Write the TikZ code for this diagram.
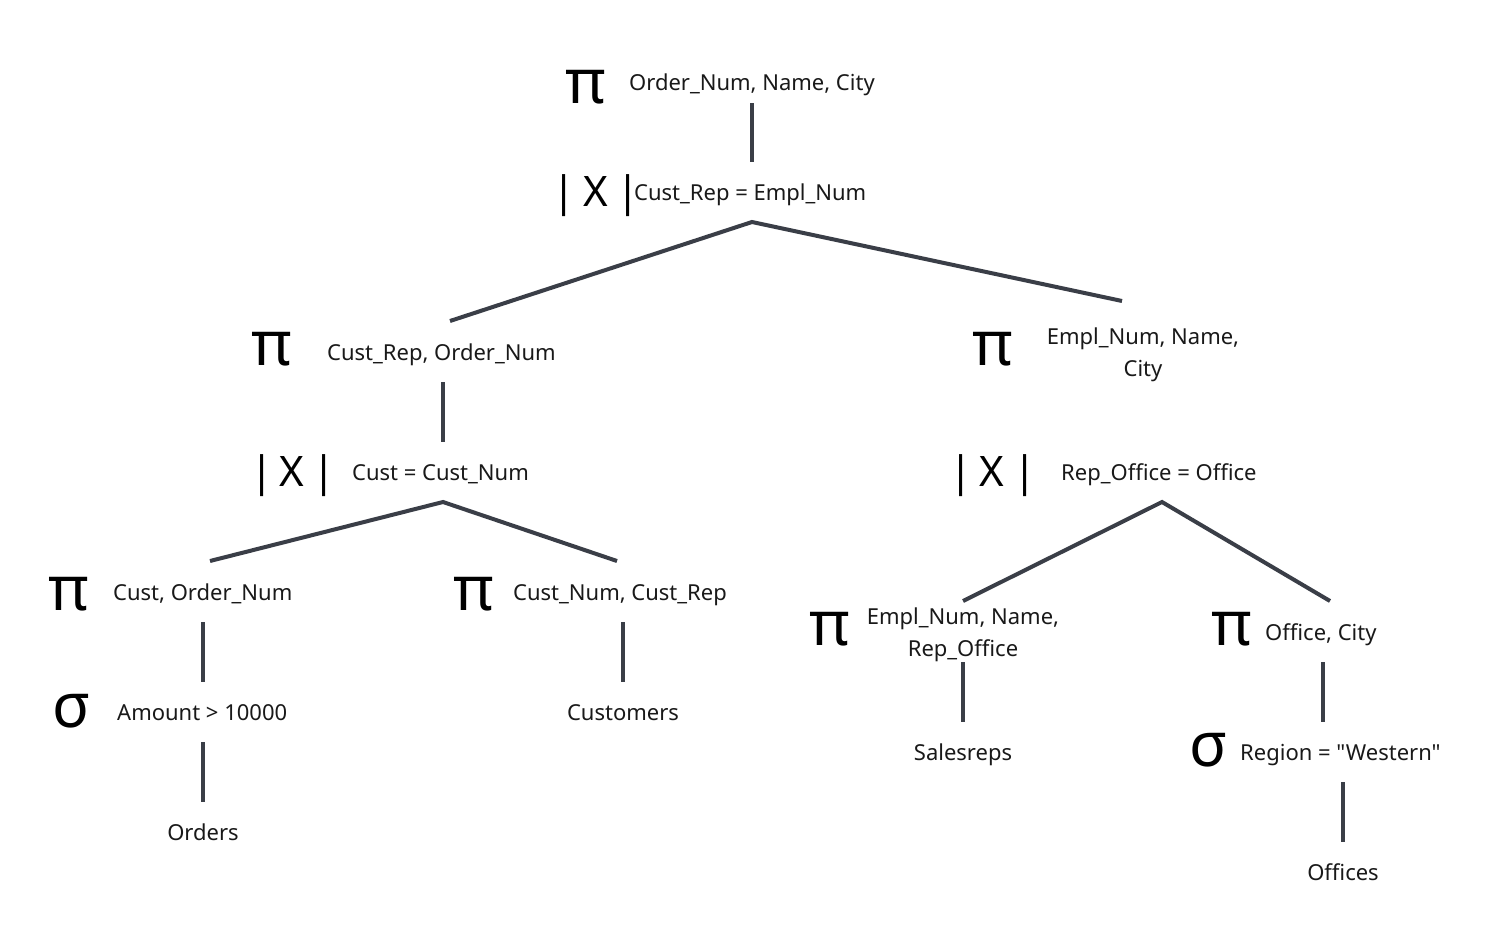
\documentclass[tikz,border=0pt]{standalone}
\usepackage{fontspec}
\setmainfont{Noto Sans}[Ligatures=TeXOff]
\begin{document}
\begin{tikzpicture}[x=1pt,y=-1pt,
  lbl/.style={inner sep=0pt,text=black!90,font=\fontsize{22}{32}\selectfont},
  op/.style={inner sep=0pt,text=black,font=\fontsize{62}{62}\selectfont},
  jn/.style={inner sep=0pt,text=black,font=\fontsize{42}{42}\selectfont},
  edge/.style={draw=edgecol,line width=4pt,line cap=butt,line join=miter}]
\definecolor{edgecol}{HTML}{3A3E47}
\useasboundingbox[fill=white] (0,0) rectangle (1503,942);

% ---- root projection
\node[op,anchor=base] (p1) at (586,103) {π};
\node[lbl,anchor=base west] (p1t) at (629,90) {Order\_Num, Name, City};
% ---- top join
\node[jn,anchor=base] (j1a) at (564,206) {|};
\node[jn,anchor=base] (j1x) at (596,206) {X};
\node[jn,anchor=base] (j1b) at (628,206) {|};
\node[lbl,anchor=base west] (j1t) at (634,200) {Cust\_Rep = Empl\_Num};
% ---- left projection
\node[op,anchor=base] (p2) at (272,365) {π};
\node[lbl,anchor=base west] (p2t) at (327,360) {Cust\_Rep, Order\_Num};
% ---- right projection
\node[op,anchor=base] (p3) at (993,365) {π};
\node[lbl,align=center,anchor=base] (p3t) at (1143,376) {Empl\_Num, Name,\\City};
% ---- left join
\node[jn,anchor=base] (j2a) at (262,486) {|};
\node[jn,anchor=base] (j2x) at (292,486) {X};
\node[jn,anchor=base] (j2b) at (324,486) {|};
\node[lbl,anchor=base west] (j2t) at (352,480) {Cust = Cust\_Num};
% ---- right join
\node[jn,anchor=base] (j3a) at (961,486) {|};
\node[jn,anchor=base] (j3x) at (992,486) {X};
\node[jn,anchor=base] (j3b) at (1025,486) {|};
\node[lbl,anchor=base west] (j3t) at (1061,480) {Rep\_Office = Office};
% ---- leaves left
\node[op,anchor=base] (p4) at (69,610) {π};
\node[lbl,anchor=base west] (p4t) at (113,600) {Cust, Order\_Num};
\node[op,anchor=base] (p5) at (474,610) {π};
\node[lbl,anchor=base west] (p5t) at (513,600) {Cust\_Num, Cust\_Rep};
\node[op,anchor=base] (s1) at (72,727) {σ};
\node[lbl,anchor=base west] (s1t) at (117,720) {Amount > 10000};
\node[lbl,anchor=base] (cust) at (623,720) {Customers};
\node[lbl,anchor=base] (ord) at (203,840) {Orders};
% ---- leaves right
\node[op,anchor=base] (p6) at (830,645) {π};
\node[lbl,align=center,anchor=base] (p6t) at (963,656) {Empl\_Num, Name,\\Rep\_Office};
\node[op,anchor=base] (p7) at (1232,645) {π};
\node[lbl,anchor=base west] (p7t) at (1265,640) {Office, City};
\node[lbl,anchor=base] (sal) at (963,760) {Salesreps};
\node[op,anchor=base] (s2) at (1209,766) {σ};
\node[lbl,anchor=base west] (s2t) at (1240,760) {Region = "Western"};
\node[lbl,anchor=base] (off) at (1343,880) {Offices};

% ---- connector end points
\coordinate (e1a) at (752,103); \coordinate (e1b) at (752,162);
\coordinate (apx1) at (752,222); \coordinate (e2l) at (450,321); \coordinate (e2r) at (1122,301);
\coordinate (e3a) at (443,382); \coordinate (e3b) at (443,442);
\coordinate (apx2) at (443,502); \coordinate (e4l) at (210,561); \coordinate (e4r) at (617,561);
\coordinate (e5a) at (203,622); \coordinate (e5b) at (203,682);
\coordinate (e6a) at (203,742); \coordinate (e6b) at (203,802);
\coordinate (e7a) at (623,622); \coordinate (e7b) at (623,682);
\coordinate (apx3) at (1162,502); \coordinate (e8l) at (963,601); \coordinate (e8r) at (1330,601);
\coordinate (e9a) at (963,662); \coordinate (e9b) at (963,722);
\coordinate (e10a) at (1323,662); \coordinate (e10b) at (1323,722);
\coordinate (e11a) at (1343,782); \coordinate (e11b) at (1343,842);

\draw[edge] (e1a) -- (e1b);
\draw[edge] (e2l) -- (apx1) -- (e2r);
\draw[edge] (e3a) -- (e3b);
\draw[edge] (e4l) -- (apx2) -- (e4r);
\draw[edge] (e5a) -- (e5b);
\draw[edge] (e6a) -- (e6b);
\draw[edge] (e7a) -- (e7b);
\draw[edge] (e8l) -- (apx3) -- (e8r);
\draw[edge] (e9a) -- (e9b);
\draw[edge] (e10a) -- (e10b);
\draw[edge] (e11a) -- (e11b);
\end{tikzpicture}
\end{document}
